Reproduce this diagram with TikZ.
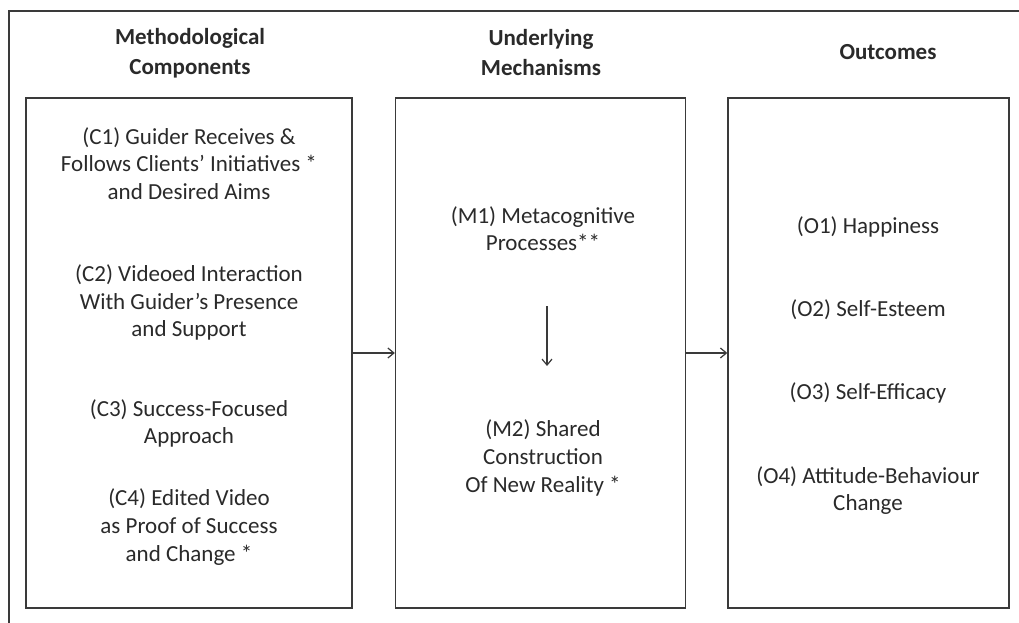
\documentclass[tikz,border=0pt]{standalone}
\usepackage{fontspec}
\setmainfont{Carlito}
\usetikzlibrary{arrows.meta}
\definecolor{ink}{HTML}{2A2A2A}
\definecolor{linec}{HTML}{3A3A3A}
\begin{document}
\begin{tikzpicture}[x=1pt,y=-1pt,
  panel/.style={draw=linec,line width=1.4pt,minimum width=#1,minimum height=510pt,inner sep=0pt},
  txt/.style={align=center,text=ink,font=\fontsize{23}{27.6}\selectfont,inner sep=0pt},
  head/.style={align=center,text=ink,font=\fontsize{23}{30}\selectfont\bfseries,inner sep=0pt},
  conn/.style={draw=linec,line width=1.2pt,-{Straight Barb[length=6pt,width=10pt,line width=1.2pt]}}]
\useasboundingbox (0,0) rectangle (1019,623);
\fill[white] (0,0) rectangle (1019,623);
% outer frame (cropped)
\draw[line width=1.4pt,draw=linec] (9,623) -- (9,11) -- (1019,11);
% panels
\node[panel=326pt] (P1) at (189,353) {};
\node[panel=290pt] (P2) at (540.5,353) {};
\node[panel=281pt] (P3) at (868.5,353) {};
% headings
\node[head] (h1) at (190,53) {Methodological\\Components};
\node[head] (h2) at (541,53) {Underlying\\Mechanisms};
\node[head] (h3) at (888,52) {Outcomes};
% components
\node[txt] (c1) at (189,163.5) {(C1) Guider Receives \&\\Follows Clients’ Initiatives *\\and Desired Aims};
\node[txt] (c2) at (189,302.5) {(C2) Videoed Interaction\\With Guider’s Presence\\and Support};
\node[txt] (c3) at (189,423.5) {(C3) Success-Focused\\Approach};
\node[txt] (c4) at (189,527) {(C4) Edited Video\\as Proof of Success\\and Change *};
% mechanisms
\node[txt] (m1) at (543,228.5) {(M1) Metacognitive\\Processes**};
\node[txt] (m2) at (543,458) {(M2) Shared\\Construction\\Of New Reality *};
% outcomes
\node[txt] (o1) at (868,227) {(O1) Happiness};
\node[txt] (o2) at (868,310) {(O2) Self-Esteem};
\node[txt] (o3) at (868,393) {(O3) Self-Efficacy};
\node[txt] (o4) at (868,490.5) {(O4) Attitude-Behaviour\\Change};
% connectors
\draw[conn] (P1.east) -- (P2.west);
\draw[conn] (P2.east) -- (P3.west);
\coordinate (a1) at (547,306);
\coordinate (a2) at (547,366);
\draw[conn] (a1) -- (a2);
\end{tikzpicture}
\end{document}
